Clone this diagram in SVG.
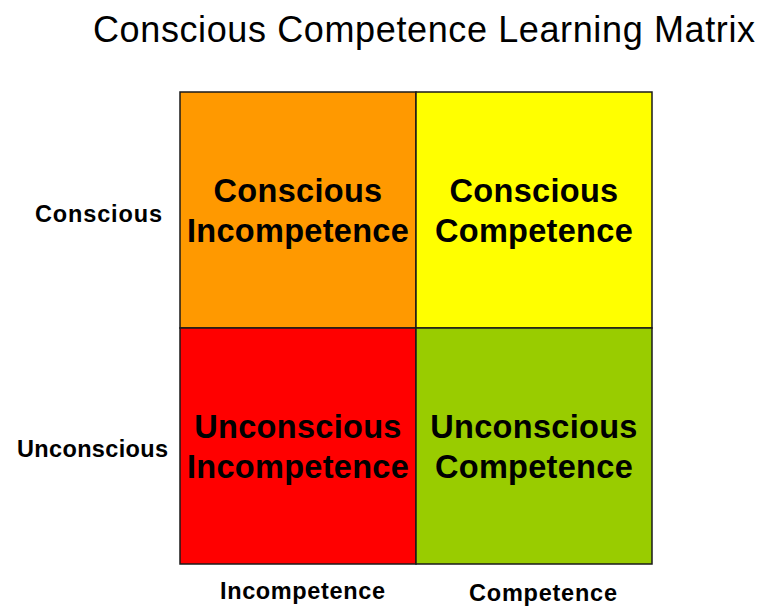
<svg xmlns="http://www.w3.org/2000/svg" width="772" height="615" viewBox="0 0 772 615">
<style>
.cell{stroke:#1a1a1a;stroke-width:1.5}
.ct{font-family:"Liberation Sans",Arial,sans-serif;font-weight:bold;font-size:32.5px;letter-spacing:0.3px;text-anchor:middle;fill:#000}
.lbl{font-family:"Liberation Sans",Arial,sans-serif;font-weight:bold;font-size:23.5px;fill:#000}
.title{font-family:"Liberation Sans",Arial,sans-serif;font-size:36px;fill:#000}
</style>
<rect width="772" height="615" fill="#fff"/>
<text class="title" x="93" y="42" textLength="662" lengthAdjust="spacing">Conscious Competence Learning Matrix</text>
<g id="ci">
<rect class="cell" x="180" y="92" width="236" height="236" fill="#FF9900"/>
<text class="ct" x="298" y="202">Conscious</text>
<text class="ct" x="298" y="242">Incompetence</text>
</g>
<g id="cc">
<rect class="cell" x="416" y="92" width="236" height="236" fill="#FFFF00"/>
<text class="ct" x="534" y="202">Conscious</text>
<text class="ct" x="534" y="242">Competence</text>
</g>
<g id="ui">
<rect class="cell" x="180" y="328" width="236" height="236" fill="#FF0000"/>
<text class="ct" x="298" y="438">Unconscious</text>
<text class="ct" x="298" y="478">Incompetence</text>
</g>
<g id="uc">
<rect class="cell" x="416" y="328" width="236" height="236" fill="#99CC00"/>
<text class="ct" x="534" y="438">Unconscious</text>
<text class="ct" x="534" y="478">Competence</text>
</g>
<g id="labels">
<text class="lbl" x="35" y="222" textLength="127" lengthAdjust="spacing">Conscious</text>
<text class="lbl" x="17" y="457" textLength="151" lengthAdjust="spacing">Unconscious</text>
<text class="lbl" x="220" y="599" textLength="165" lengthAdjust="spacing">Incompetence</text>
<text class="lbl" x="469" y="601" textLength="148" lengthAdjust="spacing">Competence</text>
</g>
<g id="connectors"/>
</svg>
